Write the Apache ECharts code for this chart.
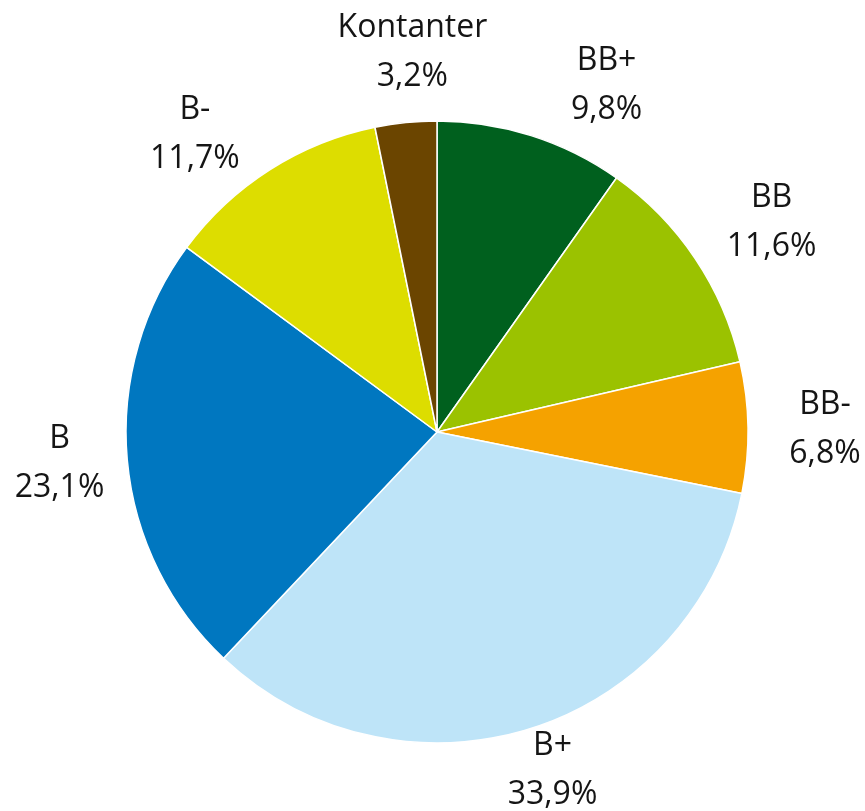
<!DOCTYPE html>
<html>
<head>
<meta charset="utf-8">
<script src="https://cdn.jsdelivr.net/npm/echarts@6/dist/echarts.min.js"></script>
<style>
html,body{margin:0;padding:0;background:#fff;}
#chart{width:865px;height:811px;}
</style>
</head>
<body>
<div id="chart"></div>
<script>
const categories = ['BB+', 'BB', 'BB-', 'B+', 'B', 'B-', 'Kontanter'];
const values = [9.8, 11.6, 6.8, 33.9, 23.1, 11.7, 3.2];
const colors = ['#00601E', '#9BC200', '#F5A200', '#BEE4F8', '#0077C0', '#DDDD00', '#6B4500'];

// layout (not data): label placement along each slice's mid-angle, plus small nudges
const CX = 437, CY = 432, R = 311, LABEL_DIST = 385;
const labelNudge = {
  'BB+': [53, 18], 'BB': [15, 3], 'BB-': [3, 1], 'B+': [-1, -31],
  'B': [6, -5], 'B-': [-35, 25], 'Kontanter': [14, 1]
};

const total = values.reduce((a, b) => a + b, 0);
const midAngles = [];
let acc = 0;
values.forEach(v => { midAngles.push((acc + v / 2) / total * Math.PI * 2); acc += v; });

const chart = echarts.init(document.getElementById('chart'));
chart.setOption({
  animation: false,
  series: [{
    type: 'pie',
    center: [CX, CY],
    radius: R,
    startAngle: 90,
    clockwise: true,
    label: {
      show: true,
      position: 'outside',
      overflow: 'none',
      fontFamily: 'Open Sans',
      fontSize: 32,
      lineHeight: 49,
      color: '#151515',
      formatter: p => p.name + '\n' + String(p.value).replace('.', ',') + '%'
    },
    labelLine: { show: false },
    labelLayout: function (params) {
      const i = params.dataIndex;
      const a = midAngles[i];
      const n = labelNudge[categories[i]] || [0, 0];
      return {
        x: CX + LABEL_DIST * Math.sin(a) + n[0],
        y: CY - LABEL_DIST * Math.cos(a) + n[1] + 2,
        align: 'center',
        verticalAlign: 'middle'
      };
    },
    itemStyle: { borderColor: '#ffffff', borderWidth: 1.5 },
    data: categories.map((c, i) => ({ name: c, value: values[i], itemStyle: { color: colors[i] } }))
  }]
});
</script>
</body>
</html>
